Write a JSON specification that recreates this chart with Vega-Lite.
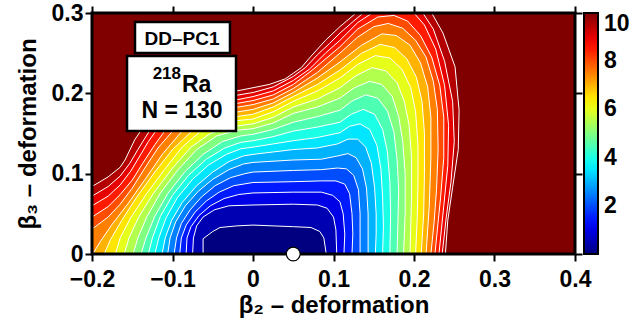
{
"$schema":"https://vega.github.io/schema/vega-lite/v6.json",
"width":483,"height":241,
"autosize":{"type":"none"},
"padding":{"left":92,"top":13,"right":54,"bottom":66},
"config":{"view":{"fill":"#800000","stroke":null},"font":"Liberation Sans"},
"datasets":{
"contours":[
{"E":9.5,"x":-0.2,"y":0},{"E":9.5,"x":-0.2,"y":0.084},{"E":9.5,"x":-0.18,"y":0.096},{"E":9.5,"x":-0.165,"y":0.108},{"E":9.5,"x":-0.159,"y":0.117},{"E":9.5,"x":-0.147,"y":0.142},{"E":9.5,"x":-0.139,"y":0.154},{"E":9.5,"x":-0.125,"y":0.168},{"E":9.5,"x":-0.1,"y":0.183},{"E":9.5,"x":-0.07,"y":0.194},{"E":9.5,"x":-0.04,"y":0.2},{"E":9.5,"x":-0.02,"y":0.203},{"E":9.5,"x":0,"y":0.207},{"E":9.5,"x":0.02,"y":0.211},{"E":9.5,"x":0.04,"y":0.218},{"E":9.5,"x":0.05,"y":0.225},{"E":9.5,"x":0.06,"y":0.232},{"E":9.5,"x":0.071,"y":0.245},{"E":9.5,"x":0.09,"y":0.266},{"E":9.5,"x":0.108,"y":0.283},{"E":9.5,"x":0.128,"y":0.3},{"E":9.5,"x":0.222,"y":0.3},{"E":9.5,"x":0.236,"y":0.275},{"E":9.5,"x":0.251,"y":0.233},{"E":9.5,"x":0.256,"y":0.179},{"E":9.5,"x":0.255,"y":0.13},{"E":9.5,"x":0.248,"y":0.083},{"E":9.5,"x":0.242,"y":0.042},{"E":9.5,"x":0.239,"y":0},
{"E":9,"x":-0.2,"y":0},{"E":9,"x":-0.2,"y":0.072},{"E":9,"x":-0.18,"y":0.084},{"E":9,"x":-0.165,"y":0.097},{"E":9,"x":-0.153,"y":0.113},{"E":9,"x":-0.143,"y":0.13},{"E":9,"x":-0.135,"y":0.143},{"E":9,"x":-0.128,"y":0.154},{"E":9,"x":-0.112,"y":0.168},{"E":9,"x":-0.09,"y":0.179},{"E":9,"x":-0.06,"y":0.189},{"E":9,"x":-0.03,"y":0.196},{"E":9,"x":0,"y":0.201},{"E":9,"x":0.025,"y":0.208},{"E":9,"x":0.05,"y":0.221},{"E":9,"x":0.065,"y":0.232},{"E":9,"x":0.08,"y":0.248},{"E":9,"x":0.095,"y":0.262},{"E":9,"x":0.108,"y":0.275},{"E":9,"x":0.125,"y":0.29},{"E":9,"x":0.137,"y":0.3},{"E":9,"x":0.211,"y":0.3},{"E":9,"x":0.224,"y":0.28},{"E":9,"x":0.238,"y":0.24},{"E":9,"x":0.248,"y":0.19},{"E":9,"x":0.25,"y":0.14},{"E":9,"x":0.246,"y":0.09},{"E":9,"x":0.24,"y":0.045},{"E":9,"x":0.235,"y":0},
{"E":8.5,"x":-0.2,"y":0},{"E":8.5,"x":-0.2,"y":0.06},{"E":8.5,"x":-0.18,"y":0.072},{"E":8.5,"x":-0.165,"y":0.086},{"E":8.5,"x":-0.152,"y":0.103},{"E":8.5,"x":-0.14,"y":0.123},{"E":8.5,"x":-0.13,"y":0.14},{"E":8.5,"x":-0.12,"y":0.154},{"E":8.5,"x":-0.105,"y":0.166},{"E":8.5,"x":-0.08,"y":0.177},{"E":8.5,"x":-0.05,"y":0.186},{"E":8.5,"x":-0.02,"y":0.192},{"E":8.5,"x":0,"y":0.196},{"E":8.5,"x":0.025,"y":0.203},{"E":8.5,"x":0.05,"y":0.216},{"E":8.5,"x":0.07,"y":0.23},{"E":8.5,"x":0.09,"y":0.25},{"E":8.5,"x":0.108,"y":0.266},{"E":8.5,"x":0.13,"y":0.288},{"E":8.5,"x":0.148,"y":0.3},{"E":8.5,"x":0.2,"y":0.3},{"E":8.5,"x":0.213,"y":0.285},{"E":8.5,"x":0.227,"y":0.255},{"E":8.5,"x":0.238,"y":0.21},{"E":8.5,"x":0.243,"y":0.16},{"E":8.5,"x":0.242,"y":0.11},{"E":8.5,"x":0.237,"y":0.06},{"E":8.5,"x":0.234,"y":0.03},{"E":8.5,"x":0.231,"y":0},
{"E":8,"x":-0.2,"y":0},{"E":8,"x":-0.2,"y":0.046},{"E":8,"x":-0.18,"y":0.059},{"E":8,"x":-0.165,"y":0.074},{"E":8,"x":-0.15,"y":0.092},{"E":8,"x":-0.137,"y":0.113},{"E":8,"x":-0.122,"y":0.136},{"E":8,"x":-0.109,"y":0.154},{"E":8,"x":-0.095,"y":0.165},{"E":8,"x":-0.07,"y":0.175},{"E":8,"x":-0.04,"y":0.184},{"E":8,"x":0,"y":0.191},{"E":8,"x":0.025,"y":0.198},{"E":8,"x":0.05,"y":0.211},{"E":8,"x":0.075,"y":0.23},{"E":8,"x":0.108,"y":0.258},{"E":8,"x":0.13,"y":0.28},{"E":8,"x":0.155,"y":0.295},{"E":8,"x":0.175,"y":0.297},{"E":8,"x":0.192,"y":0.29},{"E":8,"x":0.208,"y":0.272},{"E":8,"x":0.222,"y":0.245},{"E":8,"x":0.232,"y":0.21},{"E":8,"x":0.237,"y":0.17},{"E":8,"x":0.237,"y":0.12},{"E":8,"x":0.233,"y":0.07},{"E":8,"x":0.229,"y":0.03},{"E":8,"x":0.226,"y":0},
{"E":7.5,"x":-0.2,"y":0},{"E":7.5,"x":-0.2,"y":0.031},{"E":7.5,"x":-0.18,"y":0.046},{"E":7.5,"x":-0.165,"y":0.062},{"E":7.5,"x":-0.15,"y":0.082},{"E":7.5,"x":-0.135,"y":0.106},{"E":7.5,"x":-0.118,"y":0.132},{"E":7.5,"x":-0.099,"y":0.154},{"E":7.5,"x":-0.085,"y":0.164},{"E":7.5,"x":-0.06,"y":0.173},{"E":7.5,"x":-0.03,"y":0.181},{"E":7.5,"x":0,"y":0.186},{"E":7.5,"x":0.025,"y":0.193},{"E":7.5,"x":0.05,"y":0.206},{"E":7.5,"x":0.08,"y":0.226},{"E":7.5,"x":0.108,"y":0.25},{"E":7.5,"x":0.13,"y":0.27},{"E":7.5,"x":0.15,"y":0.283},{"E":7.5,"x":0.168,"y":0.287},{"E":7.5,"x":0.186,"y":0.281},{"E":7.5,"x":0.202,"y":0.266},{"E":7.5,"x":0.215,"y":0.245},{"E":7.5,"x":0.224,"y":0.215},{"E":7.5,"x":0.229,"y":0.18},{"E":7.5,"x":0.23,"y":0.13},{"E":7.5,"x":0.228,"y":0.08},{"E":7.5,"x":0.225,"y":0.04},{"E":7.5,"x":0.221,"y":0},
{"E":7,"x":-0.199,"y":0},{"E":7,"x":-0.19,"y":0.015},{"E":7,"x":-0.175,"y":0.037},{"E":7,"x":-0.155,"y":0.063},{"E":7,"x":-0.134,"y":0.093},{"E":7,"x":-0.112,"y":0.125},{"E":7,"x":-0.089,"y":0.152},{"E":7,"x":-0.072,"y":0.163},{"E":7,"x":-0.05,"y":0.17},{"E":7,"x":-0.025,"y":0.176},{"E":7,"x":0,"y":0.18},{"E":7,"x":0.025,"y":0.188},{"E":7,"x":0.05,"y":0.201},{"E":7,"x":0.08,"y":0.219},{"E":7,"x":0.108,"y":0.239},{"E":7,"x":0.135,"y":0.26},{"E":7,"x":0.16,"y":0.274},{"E":7,"x":0.178,"y":0.272},{"E":7,"x":0.195,"y":0.26},{"E":7,"x":0.208,"y":0.238},{"E":7,"x":0.217,"y":0.208},{"E":7,"x":0.221,"y":0.17},{"E":7,"x":0.221,"y":0.12},{"E":7,"x":0.219,"y":0.06},{"E":7,"x":0.215,"y":0},
{"E":6.5,"x":-0.185,"y":0},{"E":6.5,"x":-0.177,"y":0.018},{"E":6.5,"x":-0.163,"y":0.042},{"E":6.5,"x":-0.145,"y":0.07},{"E":6.5,"x":-0.122,"y":0.102},{"E":6.5,"x":-0.1,"y":0.13},{"E":6.5,"x":-0.077,"y":0.152},{"E":6.5,"x":-0.06,"y":0.161},{"E":6.5,"x":-0.035,"y":0.169},{"E":6.5,"x":0,"y":0.174},{"E":6.5,"x":0.025,"y":0.183},{"E":6.5,"x":0.05,"y":0.196},{"E":6.5,"x":0.08,"y":0.211},{"E":6.5,"x":0.108,"y":0.229},{"E":6.5,"x":0.135,"y":0.25},{"E":6.5,"x":0.158,"y":0.261},{"E":6.5,"x":0.176,"y":0.257},{"E":6.5,"x":0.191,"y":0.243},{"E":6.5,"x":0.203,"y":0.22},{"E":6.5,"x":0.21,"y":0.19},{"E":6.5,"x":0.213,"y":0.15},{"E":6.5,"x":0.213,"y":0.1},{"E":6.5,"x":0.212,"y":0.05},{"E":6.5,"x":0.209,"y":0},
{"E":6,"x":-0.171,"y":0},{"E":6,"x":-0.165,"y":0.02},{"E":6,"x":-0.152,"y":0.045},{"E":6,"x":-0.133,"y":0.074},{"E":6,"x":-0.11,"y":0.105},{"E":6,"x":-0.088,"y":0.133},{"E":6,"x":-0.066,"y":0.152},{"E":6,"x":-0.045,"y":0.161},{"E":6,"x":-0.02,"y":0.166},{"E":6,"x":0,"y":0.168},{"E":6,"x":0.025,"y":0.177},{"E":6,"x":0.05,"y":0.19},{"E":6,"x":0.08,"y":0.203},{"E":6,"x":0.108,"y":0.219},{"E":6,"x":0.13,"y":0.236},{"E":6,"x":0.152,"y":0.247},{"E":6,"x":0.17,"y":0.244},{"E":6,"x":0.185,"y":0.23},{"E":6,"x":0.196,"y":0.207},{"E":6,"x":0.202,"y":0.177},{"E":6,"x":0.205,"y":0.135},{"E":6,"x":0.205,"y":0.09},{"E":6,"x":0.204,"y":0.045},{"E":6,"x":0.202,"y":0},
{"E":5.5,"x":-0.16,"y":0},{"E":5.5,"x":-0.154,"y":0.02},{"E":5.5,"x":-0.142,"y":0.046},{"E":5.5,"x":-0.124,"y":0.075},{"E":5.5,"x":-0.1,"y":0.107},{"E":5.5,"x":-0.077,"y":0.133},{"E":5.5,"x":-0.053,"y":0.15},{"E":5.5,"x":-0.03,"y":0.158},{"E":5.5,"x":0,"y":0.162},{"E":5.5,"x":0.025,"y":0.17},{"E":5.5,"x":0.05,"y":0.183},{"E":5.5,"x":0.08,"y":0.193},{"E":5.5,"x":0.108,"y":0.207},{"E":5.5,"x":0.128,"y":0.222},{"E":5.5,"x":0.148,"y":0.232},{"E":5.5,"x":0.165,"y":0.228},{"E":5.5,"x":0.179,"y":0.213},{"E":5.5,"x":0.188,"y":0.19},{"E":5.5,"x":0.194,"y":0.16},{"E":5.5,"x":0.197,"y":0.12},{"E":5.5,"x":0.197,"y":0.07},{"E":5.5,"x":0.196,"y":0.035},{"E":5.5,"x":0.195,"y":0},
{"E":5,"x":-0.149,"y":0},{"E":5,"x":-0.143,"y":0.02},{"E":5,"x":-0.132,"y":0.046},{"E":5,"x":-0.115,"y":0.076},{"E":5,"x":-0.093,"y":0.105},{"E":5,"x":-0.07,"y":0.13},{"E":5,"x":-0.045,"y":0.147},{"E":5,"x":-0.02,"y":0.154},{"E":5,"x":0,"y":0.156},{"E":5,"x":0.025,"y":0.163},{"E":5,"x":0.05,"y":0.175},{"E":5,"x":0.08,"y":0.183},{"E":5,"x":0.108,"y":0.194},{"E":5,"x":0.126,"y":0.207},{"E":5,"x":0.145,"y":0.215},{"E":5,"x":0.16,"y":0.211},{"E":5,"x":0.173,"y":0.196},{"E":5,"x":0.181,"y":0.171},{"E":5,"x":0.186,"y":0.14},{"E":5,"x":0.189,"y":0.1},{"E":5,"x":0.189,"y":0.05},{"E":5,"x":0.187,"y":0},
{"E":4.5,"x":-0.139,"y":0},{"E":4.5,"x":-0.133,"y":0.02},{"E":4.5,"x":-0.122,"y":0.047},{"E":4.5,"x":-0.106,"y":0.075},{"E":4.5,"x":-0.085,"y":0.102},{"E":4.5,"x":-0.062,"y":0.124},{"E":4.5,"x":-0.038,"y":0.14},{"E":4.5,"x":-0.015,"y":0.147},{"E":4.5,"x":0,"y":0.149},{"E":4.5,"x":0.025,"y":0.155},{"E":4.5,"x":0.05,"y":0.164},{"E":4.5,"x":0.08,"y":0.171},{"E":4.5,"x":0.108,"y":0.179},{"E":4.5,"x":0.124,"y":0.191},{"E":4.5,"x":0.14,"y":0.198},{"E":4.5,"x":0.155,"y":0.194},{"E":4.5,"x":0.167,"y":0.178},{"E":4.5,"x":0.175,"y":0.152},{"E":4.5,"x":0.179,"y":0.117},{"E":4.5,"x":0.181,"y":0.08},{"E":4.5,"x":0.18,"y":0.04},{"E":4.5,"x":0.179,"y":0},
{"E":4,"x":-0.13,"y":0},{"E":4,"x":-0.125,"y":0.02},{"E":4,"x":-0.115,"y":0.047},{"E":4,"x":-0.1,"y":0.073},{"E":4,"x":-0.08,"y":0.098},{"E":4,"x":-0.058,"y":0.118},{"E":4,"x":-0.035,"y":0.132},{"E":4,"x":-0.015,"y":0.139},{"E":4,"x":0,"y":0.141},{"E":4,"x":0.025,"y":0.146},{"E":4,"x":0.05,"y":0.153},{"E":4,"x":0.08,"y":0.158},{"E":4,"x":0.108,"y":0.164},{"E":4,"x":0.122,"y":0.174},{"E":4,"x":0.137,"y":0.18},{"E":4,"x":0.151,"y":0.174},{"E":4,"x":0.161,"y":0.155},{"E":4,"x":0.167,"y":0.127},{"E":4,"x":0.17,"y":0.09},{"E":4,"x":0.171,"y":0.05},{"E":4,"x":0.17,"y":0},
{"E":3.5,"x":-0.122,"y":0},{"E":3.5,"x":-0.117,"y":0.02},{"E":3.5,"x":-0.108,"y":0.045},{"E":3.5,"x":-0.094,"y":0.07},{"E":3.5,"x":-0.075,"y":0.093},{"E":3.5,"x":-0.055,"y":0.111},{"E":3.5,"x":-0.033,"y":0.124},{"E":3.5,"x":-0.015,"y":0.131},{"E":3.5,"x":0,"y":0.133},{"E":3.5,"x":0.025,"y":0.137},{"E":3.5,"x":0.05,"y":0.141},{"E":3.5,"x":0.08,"y":0.145},{"E":3.5,"x":0.108,"y":0.151},{"E":3.5,"x":0.12,"y":0.159},{"E":3.5,"x":0.133,"y":0.162},{"E":3.5,"x":0.145,"y":0.155},{"E":3.5,"x":0.154,"y":0.135},{"E":3.5,"x":0.159,"y":0.105},{"E":3.5,"x":0.161,"y":0.07},{"E":3.5,"x":0.162,"y":0.035},{"E":3.5,"x":0.161,"y":0},
{"E":3,"x":-0.113,"y":0},{"E":3,"x":-0.109,"y":0.02},{"E":3,"x":-0.101,"y":0.042},{"E":3,"x":-0.088,"y":0.064},{"E":3,"x":-0.07,"y":0.085},{"E":3,"x":-0.05,"y":0.102},{"E":3,"x":-0.03,"y":0.115},{"E":3,"x":-0.012,"y":0.122},{"E":3,"x":0,"y":0.124},{"E":3,"x":0.025,"y":0.127},{"E":3,"x":0.05,"y":0.13},{"E":3,"x":0.08,"y":0.132},{"E":3,"x":0.105,"y":0.137},{"E":3,"x":0.118,"y":0.143},{"E":3,"x":0.13,"y":0.143},{"E":3,"x":0.14,"y":0.133},{"E":3,"x":0.147,"y":0.113},{"E":3,"x":0.151,"y":0.083},{"E":3,"x":0.153,"y":0.05},{"E":3,"x":0.153,"y":0.025},{"E":3,"x":0.152,"y":0},
{"E":2.5,"x":-0.106,"y":0},{"E":2.5,"x":-0.103,"y":0.02},{"E":2.5,"x":-0.096,"y":0.04},{"E":2.5,"x":-0.084,"y":0.06},{"E":2.5,"x":-0.068,"y":0.078},{"E":2.5,"x":-0.05,"y":0.093},{"E":2.5,"x":-0.03,"y":0.105},{"E":2.5,"x":-0.012,"y":0.112},{"E":2.5,"x":0,"y":0.114},{"E":2.5,"x":0.05,"y":0.117},{"E":2.5,"x":0.085,"y":0.118},{"E":2.5,"x":0.105,"y":0.122},{"E":2.5,"x":0.118,"y":0.125},{"E":2.5,"x":0.128,"y":0.12},{"E":2.5,"x":0.136,"y":0.106},{"E":2.5,"x":0.141,"y":0.082},{"E":2.5,"x":0.143,"y":0.05},{"E":2.5,"x":0.143,"y":0.025},{"E":2.5,"x":0.143,"y":0},
{"E":2,"x":-0.098,"y":0},{"E":2,"x":-0.095,"y":0.02},{"E":2,"x":-0.089,"y":0.038},{"E":2,"x":-0.078,"y":0.055},{"E":2,"x":-0.064,"y":0.071},{"E":2,"x":-0.047,"y":0.085},{"E":2,"x":-0.028,"y":0.095},{"E":2,"x":-0.01,"y":0.1},{"E":2,"x":0,"y":0.102},{"E":2,"x":0.05,"y":0.104},{"E":2,"x":0.085,"y":0.105},{"E":2,"x":0.105,"y":0.107},{"E":2,"x":0.116,"y":0.106},{"E":2,"x":0.125,"y":0.098},{"E":2,"x":0.131,"y":0.08},{"E":2,"x":0.133,"y":0.05},{"E":2,"x":0.133,"y":0.025},{"E":2,"x":0.133,"y":0},
{"E":1.5,"x":-0.091,"y":0},{"E":1.5,"x":-0.089,"y":0.02},{"E":1.5,"x":-0.083,"y":0.036},{"E":1.5,"x":-0.072,"y":0.052},{"E":1.5,"x":-0.058,"y":0.066},{"E":1.5,"x":-0.042,"y":0.077},{"E":1.5,"x":-0.024,"y":0.085},{"E":1.5,"x":0,"y":0.089},{"E":1.5,"x":0.05,"y":0.09},{"E":1.5,"x":0.085,"y":0.091},{"E":1.5,"x":0.103,"y":0.091},{"E":1.5,"x":0.114,"y":0.087},{"E":1.5,"x":0.12,"y":0.075},{"E":1.5,"x":0.123,"y":0.05},{"E":1.5,"x":0.124,"y":0.025},{"E":1.5,"x":0.123,"y":0},
{"E":1,"x":-0.083,"y":0},{"E":1,"x":-0.082,"y":0.02},{"E":1,"x":-0.077,"y":0.034},{"E":1,"x":-0.067,"y":0.048},{"E":1,"x":-0.053,"y":0.06},{"E":1,"x":-0.036,"y":0.069},{"E":1,"x":-0.018,"y":0.074},{"E":1,"x":0,"y":0.076},{"E":1,"x":0.05,"y":0.077},{"E":1,"x":0.085,"y":0.077},{"E":1,"x":0.099,"y":0.073},{"E":1,"x":0.108,"y":0.065},{"E":1,"x":0.112,"y":0.05},{"E":1,"x":0.114,"y":0.025},{"E":1,"x":0.113,"y":0},
{"E":0.5,"x":-0.075,"y":0},{"E":0.5,"x":-0.074,"y":0.02},{"E":0.5,"x":-0.07,"y":0.035},{"E":0.5,"x":-0.062,"y":0.046},{"E":0.5,"x":-0.048,"y":0.055},{"E":0.5,"x":-0.03,"y":0.06},{"E":0.5,"x":0,"y":0.061},{"E":0.5,"x":0.05,"y":0.062},{"E":0.5,"x":0.08,"y":0.061},{"E":0.5,"x":0.092,"y":0.057},{"E":0.5,"x":0.1,"y":0.046},{"E":0.5,"x":0.103,"y":0.03},{"E":0.5,"x":0.104,"y":0},
{"E":0,"x":-0.062,"y":0},{"E":0,"x":-0.062,"y":0.019},{"E":0,"x":-0.05,"y":0.028},{"E":0,"x":-0.041,"y":0.033},{"E":0,"x":-0.02,"y":0.035},{"E":0,"x":0,"y":0.036},{"E":0,"x":0.05,"y":0.034},{"E":0,"x":0.072,"y":0.033},{"E":0,"x":0.083,"y":0.028},{"E":0,"x":0.088,"y":0.02},{"E":0,"x":0.091,"y":0}
]
},
"layer":[
{"data":{"name":"contours"},
 "mark":{"type":"line","filled":true,"stroke":"white","strokeWidth":1,"strokeJoin":"round"},
 "encoding":{
  "x":{"field":"x","type":"quantitative","scale":{"domain":[-0.2,0.4],"nice":false,"zero":false},
   "axis":{"orient":"bottom","values":[-0.2,-0.1,0,0.1,0.2,0.3,0.4],"labelExpr":"datum.value == 0 ? '0' : datum.value < 0 ? '−' + format(-datum.value, '.1f') + ' ' : format(datum.value, '.1f')","title":"β₂ – deformation","domain":false,"grid":false,"tickSize":7,"tickWidth":2,"tickColor":"black","labelFontSize":23,"labelFontWeight":"bold","labelColor":"black","labelPadding":7,"labelFlush":false,"labelOverlap":false,"labelBound":false,"titleFontSize":24,"titleFontWeight":"bold","titleColor":"black","titlePadding":2}},
  "y":{"field":"y","type":"quantitative","scale":{"domain":[0,0.3],"nice":false,"zero":false},
   "axis":{"orient":"left","values":[0,0.1,0.2,0.3],"labelExpr":"datum.value == 0 ? '0' : format(datum.value, '.1f')","title":"β₃ – deformation","domain":false,"grid":false,"tickSize":7,"tickWidth":2,"tickColor":"black","labelFontSize":23,"labelFontWeight":"bold","labelColor":"black","labelPadding":2,"labelFlush":false,"labelOverlap":false,"labelBound":false,"titleFontSize":24,"titleFontWeight":"bold","titleColor":"black","titlePadding":11}},
  "color":{"field":"E","type":"quantitative",
   "scale":{"type":"linear","domain":[0,1.25,3.75,6.25,8.75,10],"range":["#000080","#0000ff","#00ffff","#ffff00","#ff0000","#800000"],"interpolate":"rgb"},
   "legend":{"title":null,"orient":"right","offset":1,"direction":"vertical","gradientLength":241,"gradientThickness":14,"gradientStrokeColor":"black","gradientStrokeWidth":2,"values":[2,4,6,8,10],"labelFontSize":23,"labelFontWeight":"bold","labelColor":"black","labelOffset":6,"labelBaseline":"middle","padding":0}},
  "detail":{"field":"E","type":"nominal"},
  "order":{"value":null}
 }},
{"data":{"values":[{"x0":-0.2,"x1":0.4,"y0":0,"y1":0.3}]},
 "mark":{"type":"rect","filled":false,"stroke":"black","strokeWidth":3},
 "encoding":{
  "x":{"field":"x0","type":"quantitative","scale":{"domain":[-0.2,0.4],"nice":false,"zero":false},
   "axis":{"orient":"top","values":[-0.2,-0.1,0,0.1,0.2,0.3,0.4],"labels":false,"title":null,"domain":false,"grid":false,"tickSize":7,"tickWidth":2,"tickColor":"black"}},
  "x2":{"field":"x1"},
  "y":{"field":"y0","type":"quantitative","scale":{"domain":[0,0.3],"nice":false,"zero":false},
   "axis":{"orient":"right","values":[0,0.1,0.2,0.3],"labels":false,"title":null,"domain":false,"grid":false,"tickSize":7,"tickWidth":2,"tickColor":"black"}},
  "y2":{"field":"y1"}
 }},
{"data":{"values":[{"x0":-0.1466,"x1":-0.0286,"y0":0.2502,"y1":0.2888},{"x0":-0.1565,"x1":-0.0211,"y0":0.1531,"y1":0.2465}]},
 "mark":{"type":"rect","fill":"white","stroke":"black","strokeWidth":2.5},
 "encoding":{
  "x":{"field":"x0","type":"quantitative","axis":null},"x2":{"field":"x1"},
  "y":{"field":"y0","type":"quantitative","axis":null},"y2":{"field":"y1"}
 }},
{"data":{"values":[{"x":-0.0882,"y":0.2602,"t":"DD–PC1"}]},
 "mark":{"type":"text","fontSize":19,"fontWeight":"bold","color":"black","align":"center","baseline":"alphabetic"},
 "encoding":{"x":{"field":"x","type":"quantitative","axis":null},"y":{"field":"y","type":"quantitative","axis":null},"text":{"field":"t"}}},
{"data":{"values":[{"x":-0.0882,"y":0.2017,"t":"Ra"}]},
 "mark":{"type":"text","fontSize":23,"fontWeight":"bold","color":"black","align":"left","baseline":"alphabetic"},
 "encoding":{"x":{"field":"x","type":"quantitative","axis":null},"y":{"field":"y","type":"quantitative","axis":null},"text":{"field":"t"}}},
{"data":{"values":[{"x":-0.0894,"y":0.2178,"t":"218"}]},
 "mark":{"type":"text","fontSize":17,"fontWeight":"bold","color":"black","align":"right","baseline":"alphabetic"},
 "encoding":{"x":{"field":"x","type":"quantitative","axis":null},"y":{"field":"y","type":"quantitative","axis":null},"text":{"field":"t"}}},
{"data":{"values":[{"x":-0.0882,"y":0.1693,"t":"N = 130"}]},
 "mark":{"type":"text","fontSize":23,"fontWeight":"bold","color":"black","align":"center","baseline":"alphabetic"},
 "encoding":{"x":{"field":"x","type":"quantitative","axis":null},"y":{"field":"y","type":"quantitative","axis":null},"text":{"field":"t"}}},
{"data":{"values":[{"x":0.05,"y":0}]},
 "mark":{"type":"circle","color":"white","opacity":1,"stroke":"black","strokeWidth":1.2,"size":190},
 "encoding":{"x":{"field":"x","type":"quantitative","axis":null},"y":{"field":"y","type":"quantitative","axis":null}}}
],
"resolve":{"axis":{"x":"independent","y":"independent"}}
}
